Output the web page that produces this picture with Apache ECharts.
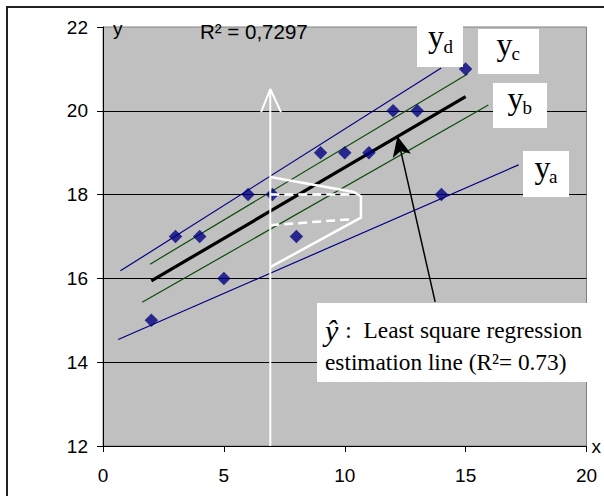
<!DOCTYPE html>
<html><head><meta charset="utf-8">
<script src="https://cdn.jsdelivr.net/npm/echarts@6/dist/echarts.min.js"></script>
<style>html,body{margin:0;padding:0;background:#fff}#c{width:604px;height:496px}</style>
</head><body><div id="c"></div>
<script>
// ---- data ----
const xValues = [2, 3, 4, 5, 6, 7, 8, 9, 10, 11, 12, 13, 14, 15];
const yValues = [15, 17, 17, 16, 18, 18, 17, 19, 19, 19, 20, 20, 18, 21];
const xTicks = [0, 5, 10, 15, 20];
const yTicks = [12, 14, 16, 18, 20, 22];
const lineA = [[0.63, 14.54], [17.19, 18.71]];
const lineB = [[1.62, 15.43], [15.94, 20.14]];
const lineC = [[1.95, 16.34], [15.08, 20.88]];
const lineD = [[0.72, 16.18], [13.99, 21.02]];
const lineFit = [[2, 15.94], [15, 20.34]];
const whiteArrowShaft = [[6.92, 12], [6.92, 20.52]];
const whiteArrowHead = [[6.54, 19.97], [6.92, 20.52], [7.36, 19.97]];
const whiteOutline = [[6.92, 18.42], [10.38, 18.06], [10.67, 17.96], [10.67, 17.45], [6.92, 16.27]];
const dashUpper = [[6.92, 18.0], [10.22, 18.0]];
const dashLower = [[6.92, 17.27], [10.22, 17.41]];
const blackArrow = [[13.74, 15.44], [12.18, 19.39]];
const r2Text = 'R\u00b2 = 0,7297';
const noteLines = ['{i|\u0177} :{g| }Least square regression', 'estimation line (R\u00b2= 0.73)'];
const lineLabels = [['y', 'd'], ['y', 'c'], ['y', 'b'], ['y', 'a']];

const points = xValues.map((x, i) => [x, yValues[i]]);
const SANS = 'Liberation Sans, Arial, sans-serif';
const SERIF = 'Liberation Serif, Times New Roman, serif';

function seg(name, data, color, width, z, type) {
  return { name, type: 'line', data, symbol: 'none', silent: true, z: z || 2,
    lineStyle: { color, width, type: type || 'solid', cap: 'butt' } };
}

// label boxes: [rect x,y,w,h, main x, main center y, sub x, sub center y]
const boxes = [
  [417, 25, 46, 42, 428, 35.5, 443.5, 46.4],
  [478, 29, 61, 45, 496.5, 43.5, 511.5, 53.4],
  [493, 83, 54, 45, 507.5, 97.5, 522.5, 107.4],
  [523, 151, 46, 46, 534.5, 166.5, 549, 176.4]
];
const graphics = [
  { type: 'rect', shape: { x: 7, y: 7, width: 620, height: 520 }, style: { fill: 'none', stroke: '#222', lineWidth: 2 }, z: 0, silent: true },
  { type: 'text', x: 113, y: 19, style: { text: 'y', font: '19px ' + SANS, fill: '#000' }, z: 50 },
  { type: 'text', x: 200, y: 21, style: { text: r2Text, font: '20.5px ' + SANS, fill: '#000' }, z: 50 },
  { type: 'rect', shape: { x: 317, y: 303, width: 276, height: 79 }, style: { fill: '#fff' }, z: 60 },
  { type: 'text', x: 325, y: 314, z: 61, style: {
      text: noteLines.join('\n'), fontSize: 23.3, fontFamily: SERIF, fill: '#000', lineHeight: 32,
      rich: {
        i: { fontStyle: 'italic', fontSize: 30, fontFamily: SERIF, fill: '#000', lineHeight: 32, padding: [0, 1, 0, 0] },
        g: { width: 12, fontSize: 23.3, lineHeight: 32 }
      } } }
];
boxes.forEach((b, k) => {
  graphics.push({ type: 'rect', shape: { x: b[0], y: b[1], width: b[2], height: b[3] }, style: { fill: '#fff' }, z: 60 });
  graphics.push({ type: 'text', x: b[4], y: b[5], z: 61, style: { text: lineLabels[k][0], font: '32px ' + SERIF, fill: '#000', verticalAlign: 'middle' } });
  graphics.push({ type: 'text', x: b[6], y: b[7], z: 61, style: { text: lineLabels[k][1], font: '19px ' + SERIF, fill: '#000', verticalAlign: 'middle' } });
});

const chart = echarts.init(document.getElementById('c'), null, { renderer: 'svg' });
chart.setOption({
  animation: false,
  backgroundColor: '#fff',
  grid: { left: 103, right: 12, top: 27, bottom: 50, show: true, backgroundColor: '#c0c0c0', borderColor: '#808080', borderWidth: 1 },
  xAxis: {
    type: 'value', min: xTicks[0], max: xTicks[xTicks.length - 1], interval: 5,
    name: 'x', nameLocation: 'end', nameGap: 5,
    nameTextStyle: { color: '#000', fontFamily: SANS, fontSize: 19, verticalAlign: 'middle' },
    axisLine: { show: true, onZero: false, lineStyle: { color: '#000', width: 1 } },
    axisTick: { show: true, inside: false, length: 6, lineStyle: { color: '#000' } },
    axisLabel: { color: '#000', fontFamily: SANS, fontSize: 19, margin: 20 },
    splitLine: { show: false }
  },
  yAxis: {
    type: 'value', min: yTicks[0], max: yTicks[yTicks.length - 1], interval: 2,
    axisLine: { show: true, onZero: false, lineStyle: { color: '#000', width: 1 } },
    axisTick: { show: true, inside: false, length: 6, lineStyle: { color: '#000' } },
    axisLabel: { color: '#000', fontFamily: SANS, fontSize: 19, margin: 15 },
    splitLine: { show: true, showMinLine: false, showMaxLine: false, lineStyle: { color: '#000', width: 1 } }
  },
  series: [
    seg('ya', lineA, '#000080', 1.2, 3),
    seg('yb', lineB, '#0a4a0a', 1.2, 3),
    seg('yc', lineC, '#0a4a0a', 1.2, 3),
    seg('yd', lineD, '#000080', 1.2, 3),
    seg('fit', lineFit, '#000', 3.2, 4),
    { type: 'scatter', data: points, symbol: 'diamond', symbolSize: 13.5, itemStyle: { color: '#000080' }, z: 5, silent: true },
    seg('arrowShaft', whiteArrowShaft, '#fff', 2, 6),
    seg('arrowHead', whiteArrowHead, '#fff', 2, 6),
    seg('outline', whiteOutline, '#fff', 2.5, 6),
    seg('dashU', dashUpper, '#fff', 2.5, 6, [9, 5]),
    seg('dashL', dashLower, '#fff', 2.5, 6, [9, 5]),
    { type: 'line', data: [], silent: true, z: 7,
      markLine: { silent: true, symbol: ['none', 'arrow'], symbolSize: [14, 20], label: { show: false },
        lineStyle: { color: '#000', width: 1.5, type: 'solid' },
        data: [[{ coord: blackArrow[0] }, { coord: blackArrow[1] }]] } }
  ],
  graphic: graphics
});
</script></body></html>
